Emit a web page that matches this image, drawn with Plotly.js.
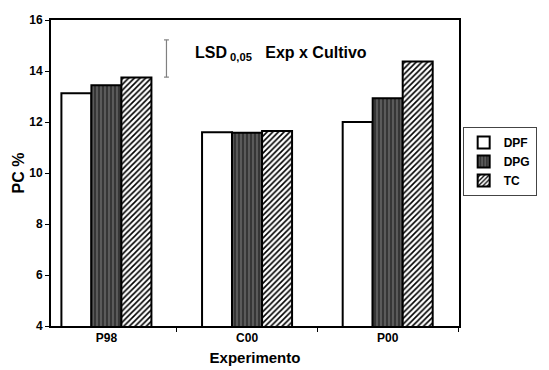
<!DOCTYPE html>
<html><head><meta charset="utf-8">
<script src="https://cdn.plot.ly/plotly-3.0.1.min.js"></script>
<style>html,body{margin:0;padding:0;background:#fff}#chart{width:549px;height:370px}</style>
</head><body><div id="chart"></div>
<script>
var experiments = ['P98', 'C00', 'P00'];
var seriesNames = ['DPF', 'DPG', 'TC'];
var dpf = [13.13, 11.60, 12.00];
var dpg = [13.44, 11.58, 12.93];
var tc = [13.75, 11.65, 14.37];
var yTicks = [4, 6, 8, 10, 12, 14, 16];
var lsdValue = 1.46;
var lsdTop = 15.22;

var font = 'Liberation Sans, Arial, sans-serif';
var outline = {color: '#000', width: 2};
var traces = [
  {type: 'bar', name: seriesNames[0], x: experiments, y: dpf,
   marker: {color: '#ffffff', line: outline}},
  {type: 'bar', name: seriesNames[1], x: experiments, y: dpg,
   marker: {color: '#3c3c3c', line: outline,
            pattern: {shape: '|', bgcolor: '#363636', fgcolor: '#6a6a6a', size: 4, solidity: 0.35}}},
  {type: 'bar', name: seriesNames[2], x: experiments, y: tc,
   marker: {color: '#ffffff', line: outline,
            pattern: {shape: '/', bgcolor: '#ffffff', fgcolor: '#000000', size: 4, solidity: 0.4}}}
];

var lsdX = 0.283;
var cap = 0.006;
var layout = {
  width: 549, height: 370,
  margin: {l: 51, r: 60, t: 20, b: 44},
  paper_bgcolor: '#fff', plot_bgcolor: '#fff',
  barmode: 'group', bargap: 0.36, bargroupgap: 0,
  font: {family: font, color: '#000'},
  showlegend: true,
  legend: {x: 1.009, y: 0.65, xanchor: 'left', yanchor: 'top',
           bordercolor: '#444', borderwidth: 1, bgcolor: '#fff',
           font: {family: font, size: 12, weight: 'bold'}},
  xaxis: {type: 'category', range: [-0.394, 2.507], showline: true, linecolor: '#000', linewidth: 2,
          mirror: true, ticks: 'outside', tickson: 'boundaries', ticklen: 4, tickcolor: '#000',
          tickfont: {family: font, size: 12, weight: 'bold'}, showgrid: false,
          title: {text: 'Experimento', font: {family: font, size: 15, weight: 'bold'}, standoff: 8}},
  yaxis: {range: [4, 16], tickvals: yTicks, showline: true, linecolor: '#000', linewidth: 2,
          mirror: true, ticks: 'outside', ticklen: 4, tickcolor: '#000', showgrid: false, zeroline: false,
          tickfont: {family: font, size: 12, weight: 'bold'},
          title: {text: 'PC %', font: {family: font, size: 16, weight: 'bold'}, standoff: 1}},
  shapes: [
    {type: 'line', xref: 'paper', yref: 'y', x0: lsdX, x1: lsdX, y0: lsdTop - lsdValue, y1: lsdTop,
     line: {color: '#808080', width: 1.2}},
    {type: 'line', xref: 'paper', yref: 'y', x0: lsdX - cap, x1: lsdX + cap, y0: lsdTop, y1: lsdTop,
     line: {color: '#808080', width: 1.2}},
    {type: 'line', xref: 'paper', yref: 'y', x0: lsdX - cap, x1: lsdX + cap, y0: lsdTop - lsdValue, y1: lsdTop - lsdValue,
     line: {color: '#808080', width: 1.2}}
  ],
  annotations: [
    {xref: 'paper', yref: 'paper', x: 0.347, y: 0.89, xanchor: 'left', yanchor: 'middle', showarrow: false,
     text: '<b>LSD<sub> 0,05</sub>   Exp x Cultivo</b>', font: {family: font, size: 16, color: '#000'}}
  ]
};
Plotly.newPlot('chart', traces, layout, {staticPlot: true});
</script></body></html>
